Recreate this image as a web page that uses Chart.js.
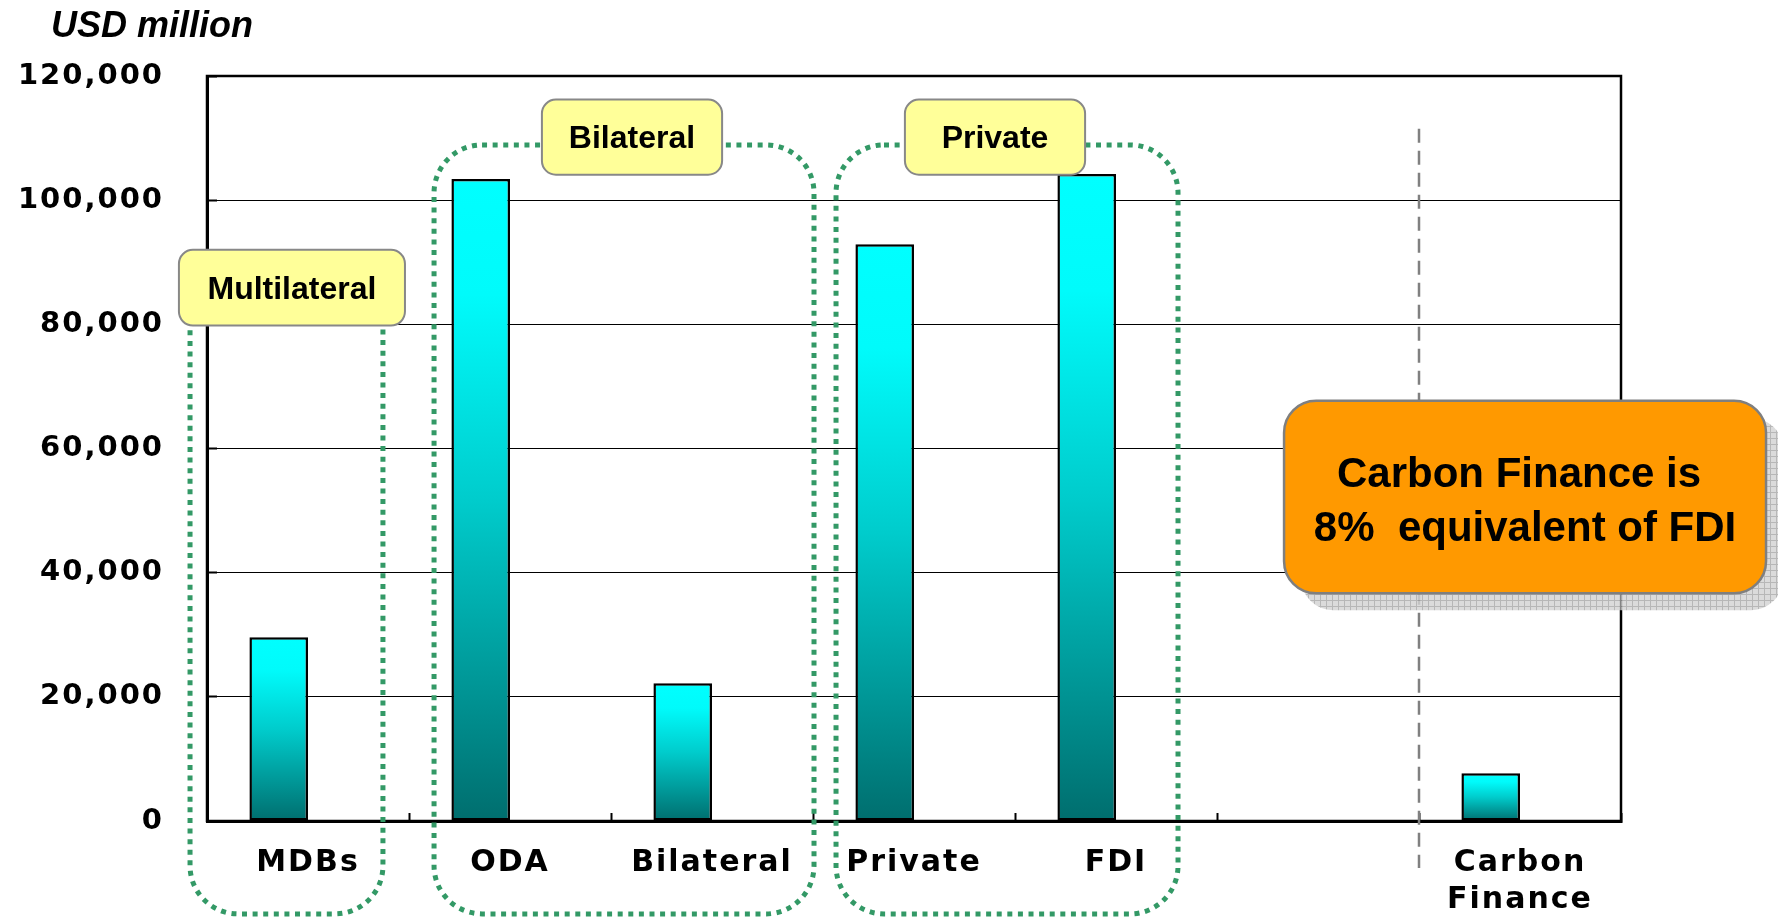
<!DOCTYPE html>
<html>
<head>
<meta charset="utf-8">
<script src="https://cdn.jsdelivr.net/npm/chart.js@4"></script>
<style>
  html, body { margin: 0; padding: 0; background: #fff; }
  #wrap { width: 1778px; height: 917px; position: relative; }
</style>
</head>
<body>
<div id="wrap"><canvas id="grafico"></canvas></div>
<script>
// categories and values (USD million)
const categorias = ['MDBs', 'ODA', 'Bilateral', 'Private', 'FDI', '', ['Carbon', 'Finance']];
const valores = [29600, 103400, 22200, 92900, 104200, null, 7700];
// the original chart had a second, empty series next to each bar
const serieVazia = [null, null, null, null, null, null, null];
const ticksY = [0, 20000, 40000, 60000, 80000, 100000, 120000];

// annotation boxes, in axis units (x = category index, y = USD million)
const grupos = [
    { x0: -0.584, x1: 0.371, y0: 89900, y1: -14960 },
    { x0: 0.624, x1: 2.505, y0: 108900, y1: -14960 },
    { x0: 2.614, x1: 4.307, y0: 108900, y1: -14960 }
];
const etiquetas = [
    { texto: 'Multilateral', x0: -0.639, x1: 0.480, y0: 92000, y1: 79800 },
    { texto: 'Bilateral', x0: 1.158, x1: 2.050, y0: 116200, y1: 104100 },
    { texto: 'Private', x0: 2.955, x1: 3.847, y0: 116200, y1: 104100 }
];
const destaque = {
    linhas: ['Carbon Finance is', '8%  equivalent of FDI'],
    x0: 4.832, x1: 7.218, y0: 67700, y1: 36700
};
const divisoria = { x: 5.5, y0: 111500, y1: -7560 };

function gradienteBarra(context) {
    const chart = context.chart;
    if (!chart.chartArea || context.type !== 'data') return '#00ffff';
    const v = context.raw;
    if (v == null) return 'rgba(0,0,0,0)';
    const y = chart.scales.y;
    const topo = y.getPixelForValue(v);
    const base = y.getPixelForValue(0);
    const g = chart.ctx.createLinearGradient(0, topo, 0, base);
    g.addColorStop(0, '#00ffff');
    g.addColorStop(0.18, '#00fbfb');
    g.addColorStop(0.5, '#00cccc');
    g.addColorStop(0.8, '#009494');
    g.addColorStop(1, '#006e6e');
    return g;
}

function caixaArredondada(ctx, x, y, w, h, r) {
    ctx.beginPath();
    ctx.moveTo(x + r, y);
    ctx.lineTo(x + w - r, y);
    ctx.arcTo(x + w, y, x + w, y + r, r);
    ctx.lineTo(x + w, y + h - r);
    ctx.arcTo(x + w, y + h, x + w - r, y + h, r);
    ctx.lineTo(x + r, y + h);
    ctx.arcTo(x, y + h, x, y + h - r, r);
    ctx.lineTo(x, y + r);
    ctx.arcTo(x, y, x + r, y, r);
    ctx.closePath();
}

const espacamento = {
    id: 'espacamento',
    beforeDraw(chart) {
        const ctx = chart.ctx;
        ctx.save();
        ctx.fillStyle = '#fff';
        ctx.fillRect(0, 0, chart.width, chart.height);
        ctx.restore();
        ctx.letterSpacing = '2px';
    }
};

const anotacoes = {
    id: 'anotacoes',
    afterDatasetsDraw(chart) {
        const ctx = chart.ctx;
        const xs = chart.scales.x, ys = chart.scales.y;
        const a = chart.chartArea;
        const px = v => xs.getPixelForValue(v);
        const py = v => ys.getPixelForValue(v);
        ctx.save();
        ctx.letterSpacing = '0px';

        // frame
        ctx.strokeStyle = '#000';
        ctx.lineWidth = 2.5;
        ctx.strokeRect(a.left, a.top, a.right - a.left, a.bottom - a.top);

        // gray dashed divider
        ctx.strokeStyle = '#808080';
        ctx.lineWidth = 2.5;
        ctx.setLineDash([14, 8]);
        ctx.beginPath();
        ctx.moveTo(px(divisoria.x), py(divisoria.y0));
        ctx.lineTo(px(divisoria.x), py(divisoria.y1));
        ctx.stroke();

        // dotted groups
        ctx.strokeStyle = '#339966';
        ctx.lineWidth = 5;
        ctx.setLineDash([5, 5.6]);
        grupos.forEach(g => {
            const x = px(g.x0), y = py(g.y0);
            caixaArredondada(ctx, x, y, px(g.x1) - x, py(g.y1) - y, 48);
            ctx.stroke();
        });
        ctx.setLineDash([]);

        // yellow labels
        etiquetas.forEach(e => {
            const x = px(e.x0), y = py(e.y0);
            const w = px(e.x1) - x, h = py(e.y1) - y;
            caixaArredondada(ctx, x, y, w, h, 14);
            ctx.fillStyle = '#ffff99';
            ctx.fill();
            ctx.strokeStyle = '#888888';
            ctx.lineWidth = 2;
            ctx.stroke();
            ctx.fillStyle = '#000';
            ctx.font = 'bold 32px "Liberation Sans", Arial, sans-serif';
            ctx.textAlign = 'center';
            ctx.textBaseline = 'middle';
            ctx.fillText(e.texto, x + w / 2, y + h / 2 + 2);
        });

        // orange callout with hatched shadow
        const cx = px(destaque.x0), cy = py(destaque.y0);
        const cw = px(destaque.x1) - cx, ch = py(destaque.y1) - cy;
        const padrao = document.createElement('canvas');
        padrao.width = 6; padrao.height = 6;
        const pc = padrao.getContext('2d');
        pc.fillStyle = '#d2d2d2';
        pc.fillRect(0, 0, 6, 6);
        pc.fillStyle = '#a6a6a6';
        pc.fillRect(0, 0, 6, 1);
        pc.fillRect(0, 0, 1, 6);
        ctx.globalAlpha = 0.8;
        caixaArredondada(ctx, cx + 17, cy + 17, cw, ch, 32);
        ctx.fillStyle = ctx.createPattern(padrao, 'repeat');
        ctx.fill();
        ctx.globalAlpha = 1;
        caixaArredondada(ctx, cx, cy, cw, ch, 32);
        ctx.fillStyle = '#ff9900';
        ctx.fill();
        ctx.strokeStyle = '#7f7f7f';
        ctx.lineWidth = 2.5;
        ctx.stroke();
        ctx.fillStyle = '#000';
        ctx.font = 'bold 42px "Liberation Sans", Arial, sans-serif';
        ctx.textAlign = 'center';
        ctx.textBaseline = 'alphabetic';
        ctx.fillText(destaque.linhas[0], cx + cw / 2 - 6, cy + 86);
        ctx.fillText(destaque.linhas[1], cx + cw / 2, cy + 140);

        // unit title
        ctx.textAlign = 'left';
        ctx.font = 'italic bold 36px "Liberation Sans", Arial, sans-serif';
        ctx.fillText('USD million', 51, 37);
        ctx.restore();
    }
};

const ctx = document.getElementById('grafico');

let grafico = new Chart(ctx, {
    type: 'bar',
    data: {
        labels: categorias,
        datasets: [{
            label: 'USD million',
            data: valores,
            backgroundColor: gradienteBarra,
            borderColor: '#000',
            borderWidth: 2.5,
            borderSkipped: false,
            barPercentage: 1,
            categoryPercentage: 0.58
        }, {
            label: '',
            data: serieVazia,
            barPercentage: 1,
            categoryPercentage: 0.58
        }]
    },
    options: {
        responsive: true,
        maintainAspectRatio: false,
        animation: false,
        layout: { padding: { left: 0, right: 157, top: 76, bottom: 0 } },
        plugins: {
            legend: { display: false },
            title: { display: false },
            tooltip: { enabled: false }
        },
        scales: {
            x: {
                afterFit: s => { s.height = 96; },
                grid: {
                    display: true,
                    drawOnChartArea: false,
                    drawTicks: true,
                    tickLength: -8,
                    tickWidth: 2,
                    color: '#000'
                },
                border: { display: true, color: '#000', width: 3 },
                ticks: {
                    color: '#000',
                    padding: 32,
                    maxRotation: 0,
                    autoSkip: false,
                    font: { family: 'DejaVu Sans', weight: 'bold', size: 30, lineHeight: 1.22 }
                }
            },
            y: {
                min: 0,
                max: 120000,
                afterFit: s => { s.width = 207; },
                afterBuildTicks: s => { s.ticks = ticksY.map(v => ({ value: v })); },
                grid: {
                    color: '#000',
                    lineWidth: 1,
                    drawTicks: true,
                    tickLength: -10,
                    tickWidth: 2
                },
                border: { display: true, color: '#000', width: 3 },
                ticks: {
                    color: '#000',
                    padding: 53,
                    callback: v => v.toLocaleString('en-US'),
                    font: { family: 'DejaVu Sans', weight: 'bold', size: 29 }
                }
            }
        }
    },
    plugins: [espacamento, anotacoes]
});
</script>
</body>
</html>
